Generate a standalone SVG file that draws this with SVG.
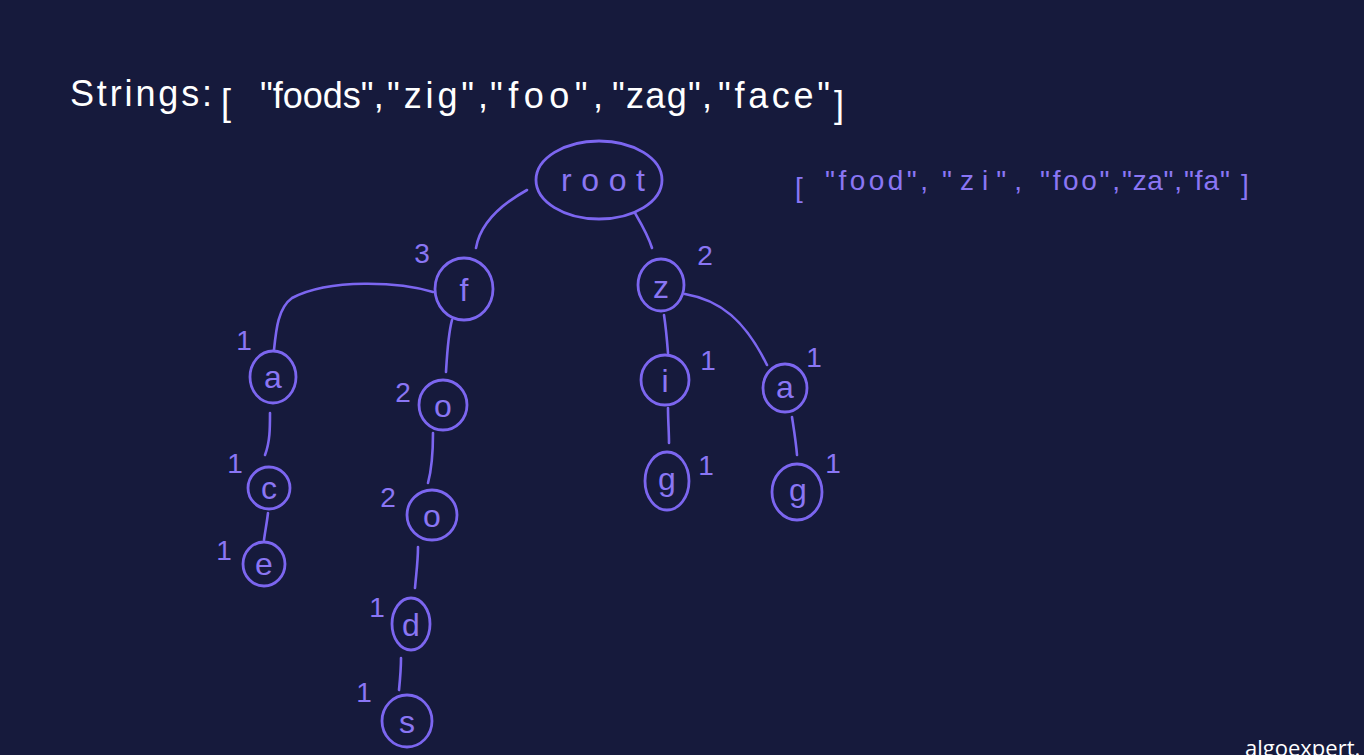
<svg xmlns="http://www.w3.org/2000/svg" width="1364" height="755" viewBox="0 0 1364 755">
<style>
.bg{fill:#161a3c}
.n{fill:none;stroke:#7c66f0;stroke-width:2.8}
.e{fill:none;stroke:#7c66f0;stroke-width:2.6;stroke-linecap:round}
.lbl{fill:#8a76f4;font-family:"Liberation Sans",Arial,sans-serif;font-size:32px;text-anchor:middle}
.cnt{fill:#8a76f4;font-family:"Liberation Sans",Arial,sans-serif;font-size:28px;text-anchor:middle}
.w{fill:#ffffff;font-family:"Liberation Sans",Arial,sans-serif;font-size:36px}
.p{fill:#8a76f4;font-family:"Liberation Sans",Arial,sans-serif;font-size:28px}
</style>
<rect class="bg" x="0" y="0" width="1364" height="755"/>

<g id="strings">
<text class="w" x="70" y="106" font-size="46" textLength="142" lengthAdjust="spacing">Strings:</text>
<text class="w" x="221" y="115" font-size="54">[</text>
<text class="w" x="260" y="108" font-size="32">"foods",</text>
<text class="w" x="387" y="108" textLength="101" lengthAdjust="spacing">"zig",</text>
<text class="w" x="490" y="108" textLength="113" lengthAdjust="spacing">"foo",</text>
<text class="w" x="612" y="108" textLength="100" lengthAdjust="spacing">"zag",</text>
<text class="w" x="718" y="108" textLength="112" lengthAdjust="spacing">"face"</text>
<text class="w" x="834" y="117" font-size="54">]</text>
</g>

<g id="prefixes">
<text class="p" x="795" y="197" font-size="46">[</text>
<text class="p" x="825" y="190" textLength="103" lengthAdjust="spacing">"food",</text>
<text class="p" x="942" y="190" textLength="80" lengthAdjust="spacing">"zi",</text>
<text class="p" x="1040" y="190" textLength="80" lengthAdjust="spacing">"foo",</text>
<text class="p" x="1122" y="190" textLength="60" lengthAdjust="spacing">"za",</text>
<text class="p" x="1184" y="190" textLength="46" lengthAdjust="spacing">"fa"</text>
<text class="p" x="1241" y="194" font-size="48">]</text>
</g>

<g id="connectors">
<path class="e" d="M527,190 C500,205 480,225 476,248"/>
<path class="e" d="M635,213 C642,225 648,235 652,248"/>
<path class="e" d="M433,292 C400,282 330,278 292,298 C278,308 276,330 274,350"/>
<path class="e" d="M452,320 C448,335 447,355 446,372"/>
<path class="e" d="M664,315 C666,328 667,340 668,353"/>
<path class="e" d="M685,294 C720,300 745,320 767,365"/>
<path class="e" d="M270,413 C270,428 270,442 265,455"/>
<path class="e" d="M268,513 C267,522 265,532 264,540"/>
<path class="e" d="M433,433 C433,450 432,468 428,483"/>
<path class="e" d="M418,547 C418,562 416,575 415,588"/>
<path class="e" d="M401,658 C401,670 400,680 399,690"/>
<path class="e" d="M668,408 C668,420 669,432 669,443"/>
<path class="e" d="M792,417 C794,430 796,442 797,455"/>
</g>

<g id="node-root">
<ellipse class="n" cx="599" cy="180" rx="63" ry="39"/>
<text class="lbl" x="603" y="191" font-size="44" textLength="84" lengthAdjust="spacing">root</text>
</g>
<g id="node-f">
<ellipse class="n" cx="464" cy="289" rx="29" ry="31"/>
<text class="lbl" x="464" y="301" font-size="34">f</text>
</g>
<g id="node-z">
<ellipse class="n" cx="661" cy="285" rx="23" ry="26"/>
<text class="lbl" x="661" y="298" font-size="38">z</text>
</g>
<g id="node-a1">
<ellipse class="n" cx="273" cy="377" rx="23" ry="26"/>
<text class="lbl" x="273" y="388">a</text>
</g>
<g id="node-o1">
<ellipse class="n" cx="443" cy="405" rx="24" ry="25"/>
<text class="lbl" x="443" y="417" font-size="36">o</text>
</g>
<g id="node-i">
<ellipse class="n" cx="665" cy="380" rx="24" ry="25"/>
<text class="lbl" x="665" y="392">i</text>
</g>
<g id="node-a2">
<ellipse class="n" cx="785" cy="388" rx="22" ry="24"/>
<text class="lbl" x="785" y="398">a</text>
</g>
<g id="node-g1">
<ellipse class="n" cx="667" cy="481" rx="22" ry="29"/>
<text class="lbl" x="667" y="490">g</text>
</g>
<g id="node-g2">
<ellipse class="n" cx="797" cy="492" rx="25" ry="28"/>
<text class="lbl" x="798" y="501">g</text>
</g>
<g id="node-c">
<ellipse class="n" cx="269" cy="488" rx="21" ry="21"/>
<text class="lbl" x="269" y="499">c</text>
</g>
<g id="node-e">
<ellipse class="n" cx="264" cy="564" rx="21" ry="22"/>
<text class="lbl" x="264" y="575">e</text>
</g>
<g id="node-o2">
<ellipse class="n" cx="432" cy="515" rx="25" ry="25"/>
<text class="lbl" x="432" y="527" font-size="36">o</text>
</g>
<g id="node-d">
<ellipse class="n" cx="411" cy="624" rx="19" ry="26"/>
<text class="lbl" x="411" y="636">d</text>
</g>
<g id="node-s">
<ellipse class="n" cx="407" cy="721" rx="25" ry="26"/>
<text class="lbl" x="407" y="733" font-size="36">s</text>
</g>

<g id="counts">
<text class="cnt" x="422" y="263">3</text>
<text class="cnt" x="705" y="265" font-size="24">2</text>
<text class="cnt" x="244" y="350">1</text>
<text class="cnt" x="403" y="402" font-size="26">2</text>
<text class="cnt" x="708" y="370">1</text>
<text class="cnt" x="814" y="367">1</text>
<text class="cnt" x="706" y="475">1</text>
<text class="cnt" x="833" y="473">1</text>
<text class="cnt" x="235" y="473">1</text>
<text class="cnt" x="224" y="560" font-size="36">1</text>
<text class="cnt" x="388" y="507" font-size="26">2</text>
<text class="cnt" x="377" y="617">1</text>
<text class="cnt" x="364" y="702">1</text>
</g>

<text x="1245" y="756" fill="#ffffff" font-family="'Open Sans','Liberation Sans',sans-serif" font-size="22">algoexpert.</text>
</svg>
